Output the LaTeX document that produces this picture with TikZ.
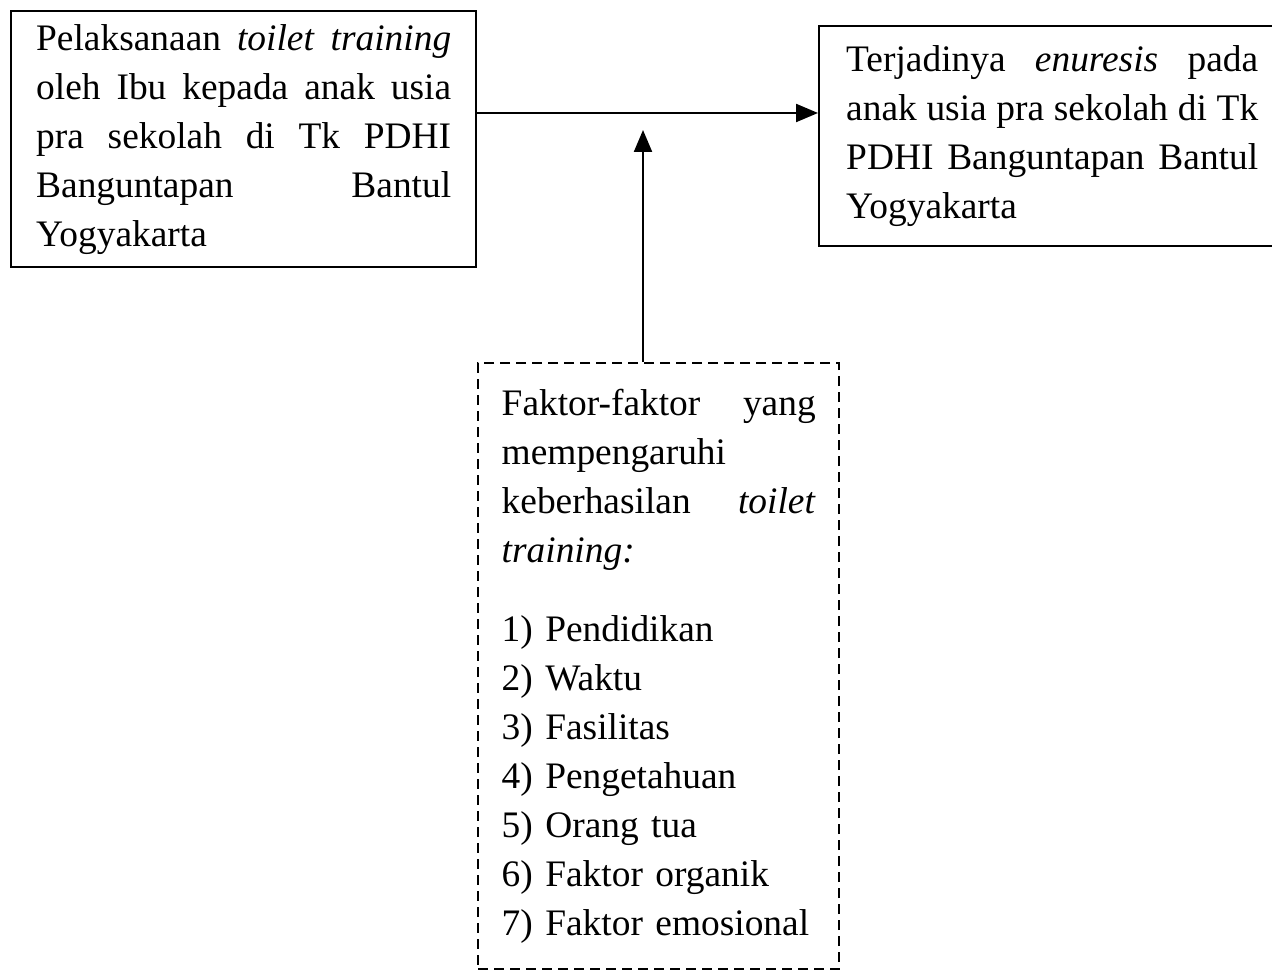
\documentclass[tikz,border=0pt]{standalone}
\usepackage{fontspec}
\setmainfont{Liberation Serif}
\usetikzlibrary{positioning,arrows.meta}
\tikzset{
  box/.style={draw, rectangle, line width=1.2pt, align=left, inner sep=0pt,
    font=\fontsize{18.7}{24.5}\selectfont},
  dbox/.style={box, dash pattern=on 5pt off 3pt},
  arr/.style={line width=1.1pt, -{Triangle[length=11pt,width=9pt]}},
}
\begin{document}
\begin{tikzpicture}[x=0.5pt,y=-0.5pt]
  \useasboundingbox (0,0) rectangle (1272,972);
  % Define nodes
  \node[box, anchor=north west, text width=207.5pt, minimum width=232.5pt,
    minimum height=128pt] (pel) at (10,10)
    {Pelaksanaan\hfill\textit{toilet}\hfill\textit{training}\\
     oleh\hfill Ibu\hfill kepada\hfill anak\hfill usia\\
     pra\hfill sekolah\hfill di\hfill Tk\hfill PDHI\\
     Banguntapan\hfill Bantul\\
     Yogyakarta};
  \node[box, anchor=north west, text width=206pt, minimum width=233pt,
    minimum height=110pt] (enu) at (818,25)
    {Terjadinya\hfill\textit{enuresis}\hfill pada\\
     anak\hfill usia\hfill pra\hfill sekolah\hfill di\hfill Tk\\
     PDHI\hfill Banguntapan\hfill Bantul\\
     Yogyakarta};
  \node[dbox, anchor=north west, text width=157pt, minimum width=180.5pt,
    minimum height=303pt] (fak) at (477,362)
    {Faktor-faktor\hfill yang\\
     mempengaruhi\\
     keberhasilan\hfill\textit{toilet}\\
     \textit{training:}\\[15pt]
     1) Pendidikan\\
     2) Waktu\\
     3) Fasilitas\\
     4) Pengetahuan\\
     5) Orang tua\\
     6) Faktor organik\\
     7) Faktor emosional};
  \coordinate (lvl) at (0,113);
  \coordinate (tip) at (643,130);

  % Connect the nodes
  \draw[arr] (pel.east |- lvl) -- (enu.west |- lvl);
  \draw[arr] (fak.north -| tip) -- (tip);
\end{tikzpicture}
\end{document}
